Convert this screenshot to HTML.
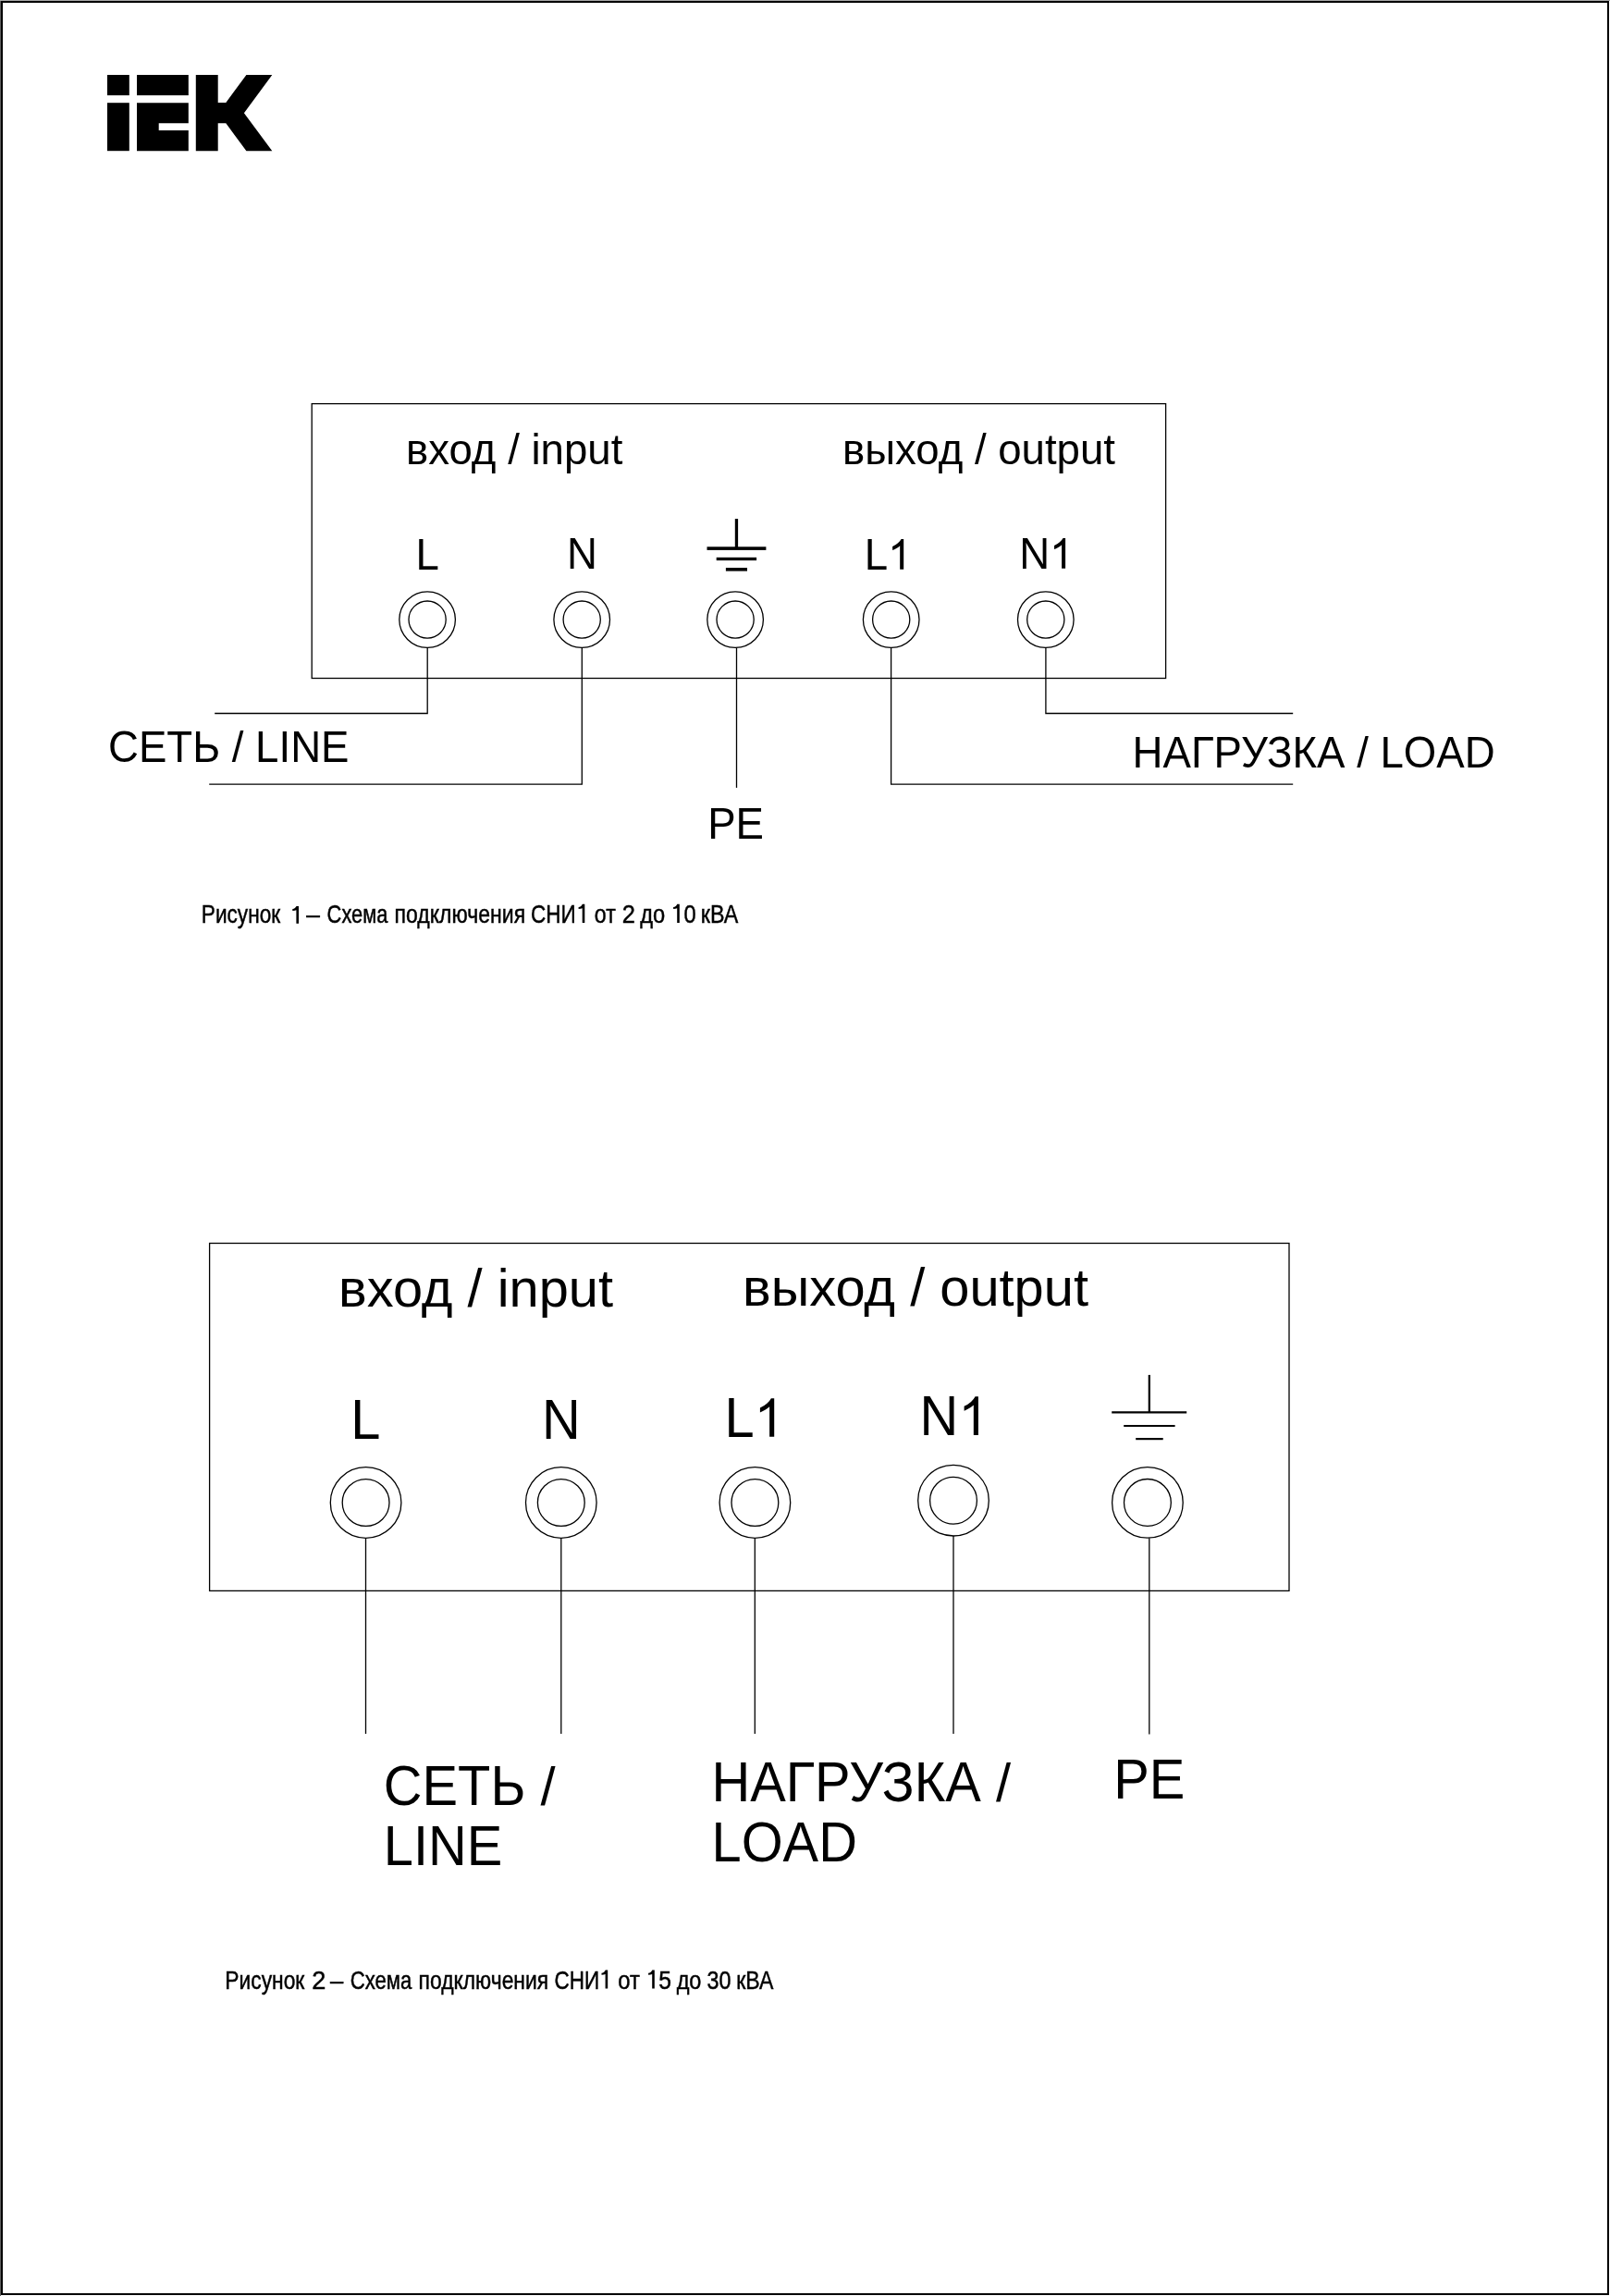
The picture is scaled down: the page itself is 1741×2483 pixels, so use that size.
<!DOCTYPE html>
<html><head><meta charset="utf-8"><style>
html,body{margin:0;padding:0;background:#fff}
body{width:1741px;height:2483px;position:relative;overflow:hidden}
svg{position:absolute;left:0;top:0;filter:grayscale(1)}
text{font-family:"Liberation Sans",sans-serif;fill:#000}
</style></head><body>
<svg width="1741" height="2483" viewBox="0 0 1741 2483">
<rect x="0" y="0" width="1" height="2483" fill="#606060"/>
<rect x="0" y="0" width="1741" height="1" fill="#a8a8a8"/>
<rect x="2" y="2" width="1737" height="2479" fill="none" stroke="#000" stroke-width="2"/>
<g fill="#000">
<rect x="116" y="81" width="23.8" height="22.1"/>
<rect x="116" y="111.2" width="23.8" height="52"/>
<rect x="148" y="81" width="55.8" height="22.1"/>
<polygon points="148,111.2 203.8,111.2 203.8,133.3 171.7,133.3 171.7,141 203.8,141 203.8,163.2 148,163.2"/>
<polygon points="211.8,81 235.7,81 235.7,110.9 244.3,110.9 266.4,81 294.3,81 263.9,122.2 294.3,163.3 266.4,163.3 244.3,133.3 235.7,133.3 235.7,163.3 211.8,163.3"/>
</g>
<g fill="none" stroke="#000" stroke-width="1.3">
<rect x="337.2" y="436.6" width="923.4" height="296.9"/>
<circle cx="462.1" cy="670.1" r="30.3"/><circle cx="462.1" cy="670.1" r="20.1"/>
<circle cx="629.2" cy="670.1" r="30.3"/><circle cx="629.2" cy="670.1" r="20.1"/>
<circle cx="795.1" cy="670.1" r="30.3"/><circle cx="795.1" cy="670.1" r="20.1"/>
<circle cx="963.7" cy="670.1" r="30.3"/><circle cx="963.7" cy="670.1" r="20.1"/>
<circle cx="1130.8" cy="670.1" r="30.3"/><circle cx="1130.8" cy="670.1" r="20.1"/>
<polyline points="462.2,700.4 462.2,771.5 232.2,771.5"/>
<polyline points="629.3,700.4 629.3,848.1 226.2,848.1"/>
<polyline points="796.5,700.4 796.5,851.9"/>
<polyline points="963.6,700.4 963.6,848.1 1398.2,848.1"/>
<polyline points="1130.9,700.4 1130.9,771.5 1398.2,771.5"/>
</g>
<g fill="#000">
<rect x="794.8" y="561.1" width="3.3" height="31"/>
<rect x="764.5" y="591.3" width="63.9" height="3.6"/>
<rect x="774.7" y="602.8" width="43.4" height="3.3"/>
<rect x="784.9" y="614" width="23.1" height="3.6"/>
</g>
<g font-size="45.6">
<text x="439" y="502.3">вход / input</text>
<text x="911" y="501.7">выход / output</text>
<text transform="translate(449.60,615.7) scale(1,1.042)">L</text>
<text transform="translate(613.10,615.0) scale(1,1.042)">N</text>
<text transform="translate(934.84,615.7) scale(1,1.042)">L</text>
<path transform="translate(960.20,615.7) scale(0.022266,-0.022266)" d="M763 0H583V1147Q518 1085 412 1023Q306 961 221 930V1104Q372 1175 485 1276Q598 1377 645 1472H763Z"/>
<text transform="translate(1102.18,614.7) scale(1,1.042)">N</text>
<path transform="translate(1135.11,614.7) scale(0.022266,-0.022266)" d="M763 0H583V1147Q518 1085 412 1023Q306 961 221 930V1104Q372 1175 485 1276Q598 1377 645 1472H763Z"/>
<text transform="translate(117.00,823.8) scale(1,1.042)">СЕТЬ</text>
<text x="250.78" y="823.8">/</text>
<text transform="translate(276.12,823.8) scale(1,1.042)">LINE</text>
<text transform="translate(1224.60,829.8) scale(1,1.042)">НАГРУЗКА</text>
<text x="1467.18" y="829.8">/</text>
<text transform="translate(1492.52,829.8) scale(1,1.042)">LOAD</text>
<text transform="translate(765.20,906.6) scale(1,1.042)">PE</text>
</g>
<g font-size="28.3" stroke="#000" stroke-width="0.5">
<text transform="translate(217.86,997.9) scale(0.799,1)">Рисунок</text>
<text transform="translate(331.3,997.9) scale(0.9299,1)">–</text>
<text transform="translate(353.62,997.9) scale(0.7733,1)">Схема</text>
<text transform="translate(426.47,997.9) scale(0.8142,1)">подключения</text>
<text transform="translate(574.09,997.9) scale(0.7948,1)">СНИ</text>
<text transform="translate(642.82,997.9) scale(0.8182,1)">от</text>
<text transform="translate(672.64,997.9) scale(0.8992,1)">2</text>
<text transform="translate(692.25,997.9) scale(0.8377,1)">до</text>
<text transform="translate(739.38,997.9) scale(0.837,1)">0</text>
<text transform="translate(757.74,997.9) scale(0.822,1)">кВА</text>
</g>
<g fill="#000">
<path transform="translate(323.0,998.8) scale(1,0.9307)" d="M0 0H-2.6V-15.6C-3.7-15.1-5.2-14.8-6.7-14.8V-16.9C-4.6-17.1-3.3-18.5-2.5-20.2H0Z"/>
<path transform="translate(632.3,997.9) scale(1,1.0000)" d="M0 0H-2.6V-15.6C-3.7-15.1-5.2-14.8-6.7-14.8V-16.9C-4.6-17.1-3.3-18.5-2.5-20.2H0Z"/>
<path transform="translate(734.8,997.9) scale(1,1.0000)" d="M0 0H-2.6V-15.6C-3.7-15.1-5.2-14.8-6.7-14.8V-16.9C-4.6-17.1-3.3-18.5-2.5-20.2H0Z"/>
</g>
<g fill="none" stroke="#000" stroke-width="1.3">
<rect x="226.6" y="1344.5" width="1167.4" height="375.9"/>
<circle cx="395.6" cy="1625" r="38.3"/><circle cx="395.6" cy="1625" r="25.4"/>
<circle cx="606.8" cy="1625" r="38.3"/><circle cx="606.8" cy="1625" r="25.4"/>
<circle cx="816.4" cy="1625" r="38.3"/><circle cx="816.4" cy="1625" r="25.4"/>
<circle cx="1031" cy="1622.7" r="38.3"/><circle cx="1031" cy="1622.7" r="25.4"/>
<circle cx="1240.9" cy="1624.9" r="38.3"/><circle cx="1240.9" cy="1624.9" r="25.4"/>
<line x1="395.5" y1="1663.3" x2="395.5" y2="1875"/>
<line x1="606.8" y1="1663.3" x2="606.8" y2="1875"/>
<line x1="816.3" y1="1663.3" x2="816.3" y2="1875"/>
<line x1="1031" y1="1661" x2="1031" y2="1875"/>
<line x1="1242.8" y1="1663.2" x2="1242.8" y2="1875.4"/>
</g>
<g fill="none" stroke="#000" stroke-width="2.2">
<line x1="1242.8" y1="1486.9" x2="1242.8" y2="1527.4"/>
<line x1="1202.2" y1="1527.4" x2="1283.2" y2="1527.4"/>
<line x1="1215.2" y1="1542" x2="1270.6" y2="1542"/>
<line x1="1228.2" y1="1556.1" x2="1257.7" y2="1556.1"/>
</g>
<g font-size="57.8">
<text x="366" y="1412.7">вход / input</text>
<text x="803" y="1412.2">выход / output</text>
<text transform="translate(379.30,1556.4) scale(1,1.042)">L</text>
<text transform="translate(585.90,1555.7) scale(1,1.042)">N</text>
<text transform="translate(783.52,1553.7) scale(1,1.042)">L</text>
<path transform="translate(815.67,1553.7) scale(0.028223,-0.028223)" d="M763 0H583V1147Q518 1085 412 1023Q306 961 221 930V1104Q372 1175 485 1276Q598 1377 645 1472H763Z"/>
<text transform="translate(994.62,1551.9) scale(1,1.042)">N</text>
<path transform="translate(1036.37,1551.9) scale(0.028223,-0.028223)" d="M763 0H583V1147Q518 1085 412 1023Q306 961 221 930V1104Q372 1175 485 1276Q598 1377 645 1472H763Z"/>
<text transform="translate(414.80,1952.4) scale(1,1.042)">СЕТЬ</text>
<text x="584.39" y="1952.4">/</text>
<text transform="translate(414.80,2017) scale(1,1.042)">LINE</text>
<text transform="translate(769.50,1948.2) scale(1,1.042)">НАГРУЗКА</text>
<text x="1077.00" y="1948.2">/</text>
<text transform="translate(769.50,2012.6) scale(1,1.042)">LOAD</text>
<text transform="translate(1204.30,1944.8) scale(1,1.042)">PE</text>
</g>
<g font-size="28.3" stroke="#000" stroke-width="0.5">
<text transform="translate(243.35,2150.6) scale(0.8057,1)">Рисунок</text>
<text transform="translate(337.35,2150.7999999999997) scale(0.9612,0.96)">2</text>
<text transform="translate(357.0,2150.6) scale(0.9045,1)">–</text>
<text transform="translate(378.7,2150.6) scale(0.7828,1)">Схема</text>
<text transform="translate(452.58,2150.6) scale(0.8078,1)">подключения</text>
<text transform="translate(599.49,2150.6) scale(0.7948,1)">СНИ</text>
<text transform="translate(668.19,2150.6) scale(0.8447,1)">от</text>
<text transform="translate(712.25,2150.6) scale(0.8722,1)">5</text>
<text transform="translate(731.65,2150.6) scale(0.8312,1)">до</text>
<text transform="translate(764.39,2150.6) scale(0.8259,1)">30</text>
<text transform="translate(796.25,2150.6) scale(0.8157,1)">кВА</text>
</g>
<g fill="#000">
<path transform="translate(657.2,2150.6) scale(1,1.0000)" d="M0 0H-2.6V-15.6C-3.7-15.1-5.2-14.8-6.7-14.8V-16.9C-4.6-17.1-3.3-18.5-2.5-20.2H0Z"/>
<path transform="translate(707.8,2150.6) scale(1,1.0000)" d="M0 0H-2.6V-15.6C-3.7-15.1-5.2-14.8-6.7-14.8V-16.9C-4.6-17.1-3.3-18.5-2.5-20.2H0Z"/>
</g>
</svg>
</body></html>
